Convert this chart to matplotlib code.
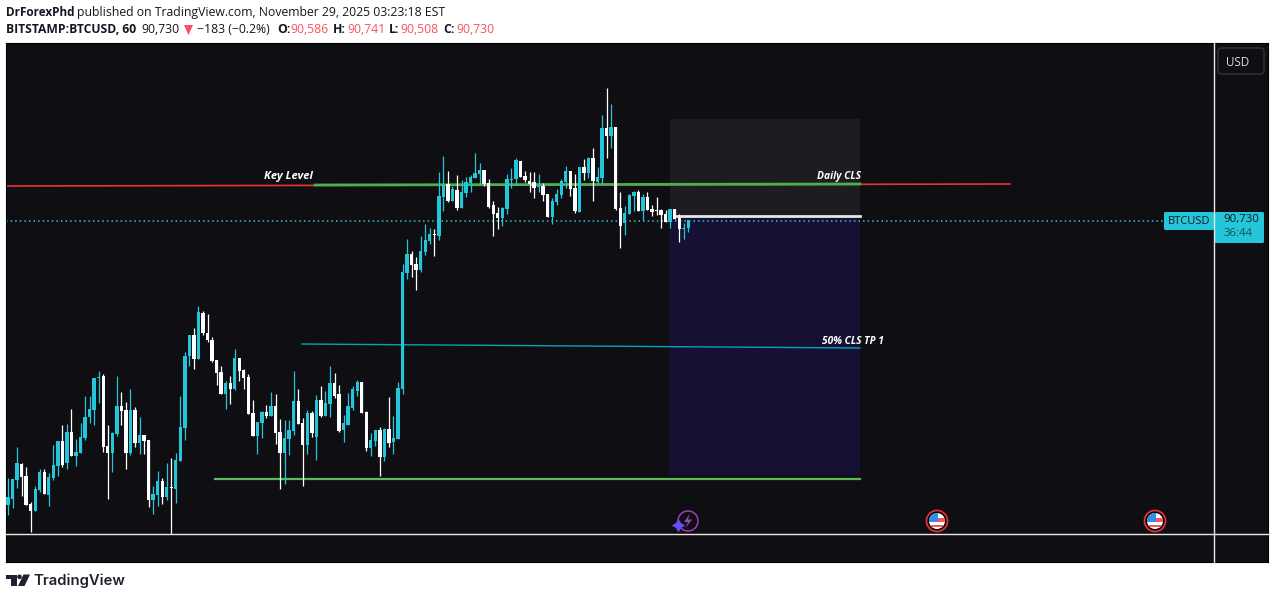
"""
BTCUSD 60 min candles with the drawn levels, TradingView snapshot look
"""
import numpy as np
import matplotlib
matplotlib.use("Agg")
import matplotlib.pyplot as plt
from matplotlib.patches import Circle, Polygon, Rectangle, FancyBboxPatch

# hourly candles (no price axis is shown, scale estimated)
opens = [85040,85160,85540,85860,85620,85060,84920,85340,85700,85240,85580,85820,86320,85880,86500,86020,86080,86380,86800,86940,87580,87620,86220,86080,86460,87020,86940,86080,86940,86280,86440,86340,85140,85240,85520,85200,85400,85360,85920,86580,88020,88440,87960,88880,88480,88340,87940,
         87700,87260,87480,87360,87980,87740,87600,86880,86420,86680,86900,86820,87020,86500,86080,86360,86520,87120,86680,86240,86880,86400,87140,86820,87060,87480,87260,86540,86640,86980,87320,87500,86900,86180,86320,86540,86000,86560,86300,86360,87360,
         89680,90060,89860,89740,90100,90320,90460,90420,91200,91460,91120,91340,90980,91280,91480,91580,91660,91740,91480,91040,90880,90780,90960,91540,91560,91920,91620,91520,91500,91400,91420,91260,90800,91100,
         91240,91500,91720,91380,90900,91800,91680,91980,91500,91580,92580,92420,92600,90980,90680,90860,91220,91300,90920,91200,90960,90940,90940,90860,90700,90960,90780,90560,90586]
highs = [85580,85560,86200,85890,85800,85100,85420,85760,85760,85680,86240,86320,86640,86660,86960,86360,86680,87220,87220,87580,87720,87660,86640,86500,87620,87300,87100,87360,87000,86800,86440,86340,85420,85720,85580,85880,85980,86080,87220,88100,88440,88580,89020,88920,88860,88400,87940,
         87820,87520,87620,88160,87980,87760,87660,87140,86700,86920,87040,87300,87260,86760,86740,86740,87720,87360,86780,86940,86920,87240,87420,87320,87820,87680,87440,86840,87280,87420,87540,87500,86920,86480,86540,86600,86580,87200,86820,87500,89860,
         90360,90120,90000,90420,90660,90580,90560,91700,92020,91720,91420,91640,91540,91600,91640,92080,91880,91740,91560,91120,91000,91000,91660,91780,91980,91920,91720,91700,91700,91660,91480,91260,91180,91360,
         91560,91820,91720,91660,91800,91960,92000,92180,91800,92840,93380,93060,92600,91300,91020,91260,91320,91340,91260,91300,91040,91200,90960,90940,90960,90960,90860,90680,90741]
lows = [84840,84980,85380,85220,85040,84500,84920,85300,85260,85020,85540,85620,85800,85760,86020,85820,86080,86340,86680,86640,87080,86100,85160,85700,86420,86640,85760,86040,86200,86060,86060,85000,84860,85020,85060,85140,84460,85080,85920,86340,87820,87760,87960,88440,88300,87900,87440,
        87260,86960,87060,87340,87520,87360,86860,86420,86060,86380,86780,86820,86260,85360,85460,86040,86440,86660,85420,86060,86400,85940,86800,86820,86800,87180,86500,86300,86640,86940,87220,86880,86120,86020,86220,85620,85920,86200,86060,86360,87260,
        89560,89600,89340,89700,90040,90260,90020,90340,90920,91100,91120,90940,90980,91200,91300,91580,91460,91420,90980,90420,90560,90620,90860,91380,91440,91600,91500,91300,91180,91300,91120,90800,90660,91040,
        91180,91380,91220,90880,90900,91540,91580,91120,91480,91460,91980,92180,90940,90180,90440,90860,90920,90920,90740,90940,90820,90840,90580,90700,90580,90760,90300,90360,90508]
closes = [85200,85560,85880,85600,85040,84920,85360,85700,85260,85600,85840,86320,85840,86500,86020,86100,86400,86800,86960,87580,87600,86200,86080,86480,87020,86920,86080,86940,86280,86440,86320,85140,85260,85520,85200,85400,85380,85940,86600,88020,88440,87960,88900,88480,88340,87920,87680,
          87260,87480,87360,87980,87720,87580,86860,86420,86700,86900,86820,87020,86480,86080,86380,86540,87120,86660,86240,86880,86480,87140,86820,87080,87480,87220,86520,86680,87020,87360,87500,86880,86180,86340,86540,86000,86560,86280,86380,87380,89700,
          90060,89840,89740,90120,90340,90460,90440,91220,91440,91120,91360,90980,91300,91500,91600,91680,91740,91460,91000,90860,90780,90980,91560,91560,91940,91600,91540,91460,91380,91420,91240,90800,91120,91260,
          91520,91720,91360,90920,91800,91680,91980,91520,91600,92580,92420,92600,90960,90620,90880,91240,91300,90920,91200,90940,90900,90920,90840,90700,90960,90760,90560,90580,90730]

last_price = 90730
key_level = [91420, 91460]     # red line
green_level = [91440, 91460]
cls_high = 90820               # white line on top of the short box
cls_50 = [88260, 88180]
low_level = 85560
box_top = 92760
box_bot = 85640

CYAN = "#26c6da"
WHITE = "#ffffff"
BG = "#0f0f13"
W, H = 1275, 599

fig = plt.figure(figsize=(W / 100, H / 100), dpi=100, facecolor="white")
plt.rcParams['font.family'] = ['Open Sans', 'DejaVu Sans']

# main chart panel, x is bar number, y is price
ax = fig.add_axes([6 / W, 1 - 562 / H, 1262 / W, 519 / H], facecolor=BG)
step = 4.535
ax.set_xlim(-2 / step, 1260 / step)
ax.set_ylim(83900, 94280)
ax.set_xticks([])
ax.set_yticks([])
for s in ax.spines.values():
    s.set_color("black")
    s.set_linewidth(0.8)


def bx(px):
    return (px - 8) / step


x = np.arange(len(opens))
o = np.array(opens)
c = np.array(closes)
colors = [CYAN if c[i] >= o[i] else WHITE for i in x]

# boxes and levels
ax.add_patch(Rectangle((bx(670), cls_high), bx(859.5) - bx(670), box_top - cls_high, color="#1c1c21", lw=0, zorder=1))
ax.add_patch(Rectangle((bx(670), box_bot), bx(859.5) - bx(670), cls_high - box_bot, color="#161033", lw=0, zorder=1))
ax.plot([bx(7), bx(1010)], key_level, color="#ee3030", lw=1.2, zorder=2)
ax.plot([bx(315), bx(860)], green_level, color="#4caf50", lw=2.0, zorder=2)
ax.plot([bx(215), bx(860)], [low_level, low_level], color="#5cb85f", lw=1.6, zorder=2)
ax.plot([bx(302), bx(860)], cls_50, color="#00a5bb", lw=1.0, zorder=2)
ax.plot([bx(677), bx(860)], [cls_high, cls_high], color="#e6e6e6", lw=2.0, zorder=2)
ax.plot([bx(6), bx(1165)], [last_price, last_price], color=CYAN, lw=1.1, ls=(0, (1, 2)), zorder=2)

# candles
ax.vlines(x, lows, highs, colors=colors, lw=0.9, zorder=3)
ax.bar(x, c - o, bottom=o, width=0.74, color=colors, lw=0, zorder=4)

txt = dict(color="white", fontsize=7.4, fontweight="bold", fontstyle="italic", ha="center", va="center", zorder=5)
ax.text(bx(288), 91620, "Key Level", **{**txt, "fontsize": 8.1})
ax.text(bx(839), 91620, "Daily CLS", **txt)
ax.text(bx(853), 88300, "50% CLS TP 1", **txt)

# everything around the chart, in picture pixels
ui = fig.add_axes([0, 0, 1, 1], facecolor="none")
ui.set_xlim(0, W)
ui.set_ylim(H, 0)
ui.axis("off")

ui.plot([6, 1268], [534, 534], color="#e8e8e8", lw=1.0)
ui.plot([1214, 1214], [43, 562], color="#e8e8e8", lw=1.0)

ui.add_patch(FancyBboxPatch((1218, 48), 46, 26, boxstyle="round,pad=0,rounding_size=4", fc=BG, ec="#2e2e33", lw=1.2))
ui.text(1238, 62, "USD", color="#dcdcdc", fontsize=8.4, ha="center", va="center")

ui.add_patch(FancyBboxPatch((1164, 212), 50, 18, boxstyle="round,pad=0,rounding_size=1.5", fc=CYAN, ec="none"))
ui.add_patch(FancyBboxPatch((1214.5, 212), 49.5, 31, boxstyle="round,pad=0,rounding_size=1.5", fc=CYAN, ec="none"))
ui.text(1189, 221, "BTCUSD", color="#0f1a20", fontsize=8, ha="center", va="center")
ui.text(1241, 219.5, "90,730", color="#0f1a20", fontsize=8.2, ha="center", va="center")
ui.text(1238, 233.5, "36:44", color="#17505a", fontsize=8.2, ha="center", va="center")

# header lines
RED = "#f7525f"
DARK = "#131722"
head = dict(fontsize=8.85, va="center", ha="left")
ui.text(6, 12.5, "DrForexPhd", color=DARK, fontweight="bold", fontsize=8.5, va="center", ha="left")
ui.text(77, 12.5, "published on TradingView.com, November 29, 2025 03:23:18 EST", color=DARK, **head)
ui.text(6, 29.5, "BITSTAMP:BTCUSD, 60", color=DARK, fontweight="bold", fontsize=8.7, va="center", ha="left")
ui.text(141, 29.5, "90,730", color=DARK, **head)
ui.add_patch(Polygon([[184, 25], [193, 25], [188.5, 35]], color=RED, lw=0))
ui.text(197, 29.5, "\u2212183 (\u22120.2%)", color=DARK, **head)
for xl, lab, xv, val in [(277, "O:", 290, "90,586"), (333, "H:", 347, "90,741"),
                         (389, "L:", 400, "90,508"), (443, "C:", 456, "90,730")]:
    ui.text(xl, 29.5, lab, color=DARK, fontweight="bold", **head)
    ui.text(xv, 29.5, val, color=RED, **head)

# event icons on the time axis
ui.add_patch(Circle((688, 521), 10, fc=BG, ec="#9c3fb5", lw=1.1))
ui.add_patch(Polygon([[690, 513.5], [684, 522], [688, 522], [685.5, 528], [692, 519.5], [688, 519.5]], color="#a23fc0", lw=0))
ui.plot([677.5], [525], marker=(4, 1, 0), ms=10, color="#6a4bff", mew=0)

for cx in [937, 1155]:
    ui.add_patch(Circle((cx, 521), 10.5, fc="black", ec="#e0303c", lw=1.3))
    clip = Circle((cx, 521), 8, transform=ui.transData)
    patches = [Rectangle((cx - 8, 513), 16, 16, color="white", lw=0),
               Rectangle((cx - 8, 518), 16, 3.5, color="#f0565c", lw=0),
               Rectangle((cx - 8, 524.5), 16, 2.5, color="#f0565c", lw=0),
               Rectangle((cx - 8, 513), 9, 8.5, color="#2f8fe8", lw=0)]
    for p in patches:
        ui.add_patch(p)
        p.set_clip_path(clip)

# logo
LOGO = "#1e222d"
ui.add_patch(Polygon([[6, 574.5], [16.5, 574.5], [16.5, 586], [11, 586], [11, 579], [6, 579]], color=LOGO, lw=0))
ui.add_patch(Circle((19.5, 576.8), 2.3, color=LOGO, lw=0))
ui.add_patch(Polygon([[23.5, 574.5], [30, 574.5], [24.5, 586], [18, 586]], color=LOGO, lw=0))
ui.text(33, 580.5, "TradingView", color=LOGO, fontsize=10.7, fontweight="semibold", family="Inter", va="center", ha="left")

fig.savefig("out.png", dpi=100, facecolor="white")
